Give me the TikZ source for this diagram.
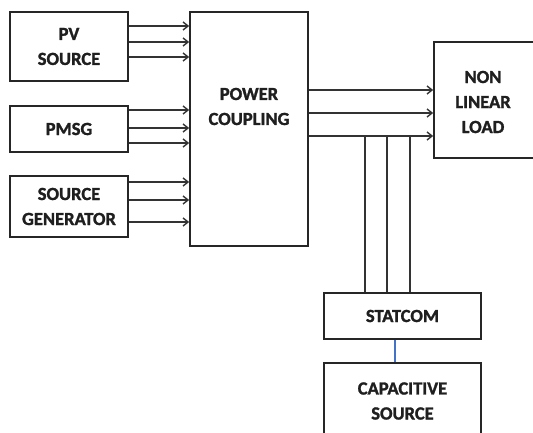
\documentclass[tikz,border=0pt]{standalone}
\usepackage{fontspec}
\setmainfont{Carlito}[BoldFeatures={FakeBold=1.5}]
\usetikzlibrary{arrows.meta}
\definecolor{linkblue}{RGB}{68,114,196}
\begin{document}
\begin{tikzpicture}[x=1pt,y=-1pt,
  box/.style={draw=black!85, line width=1.7pt, inner sep=0pt},
  lbl/.style={align=center, font=\fontsize{18.5}{25}\selectfont\bfseries, text=black!88, inner sep=0pt},
  conn/.style={draw=black!80, line width=1.3pt, -{Straight Barb[length=5pt,width=8pt,line width=1.4pt]}},
  wire/.style={draw=black!80, line width=1.3pt},
  bluewire/.style={draw=linkblue, line width=1.3pt}]
\useasboundingbox (0,0) rectangle (533,433);
\clip (0,0) rectangle (533,433);
% boxes
\node[box, minimum width=118pt, minimum height=69pt] (pv) at (69,46.5) {};
\node[lbl] (pvt) at (pv.center) {PV\\SOURCE};
\node[box, minimum width=118pt, minimum height=46pt] (pmsg) at (69,129) {};
\node[lbl] (pmsgt) at (pmsg.center) {PMSG};
\node[box, minimum width=118pt, minimum height=61pt] (sg) at (69,206.5) {};
\node[lbl] (sgt) at (sg.center) {SOURCE\\GENERATOR};
\node[box, minimum width=118pt, minimum height=234pt] (pc) at (249,129) {};
\node[lbl] (pct) at (249,106.5) {POWER\\COUPLING};
\node[box, minimum width=101pt, minimum height=116pt] (load) at (484.5,100) {};
\node[lbl] (loadt) at (483,102) {NON\\LINEAR\\LOAD};
\node[box, minimum width=157pt, minimum height=46pt] (st) at (402.5,316) {};
\node[lbl] (stt) at (st.center) {STATCOM};
\node[box, minimum width=157pt, minimum height=80pt] (cap) at (402.5,403) {};
\node[lbl] (capt) at (402.5,401) {CAPACITIVE\\SOURCE};
% arrows into power coupling
\foreach \y in {26,42,57} \draw[conn] (pv.east |- 0,\y) -- (pc.west |- 0,\y);
\foreach \y in {110,128,143} \draw[conn] (pmsg.east |- 0,\y) -- (pc.west |- 0,\y);
\foreach \y in {182,200,222} \draw[conn] (sg.east |- 0,\y) -- (pc.west |- 0,\y);
% outputs
\foreach \y in {90,113,136} \draw[conn] (pc.east |- 0,\y) -- (load.west |- 0,\y);
% statcom taps
\foreach \x in {365,387,410} \draw[wire] (st.north -| \x,0) -- (\x,136);
% statcom to capacitive source
\draw[bluewire] (st.south -| 395,0) -- (cap.north -| 395,0);
\end{tikzpicture}
\end{document}
